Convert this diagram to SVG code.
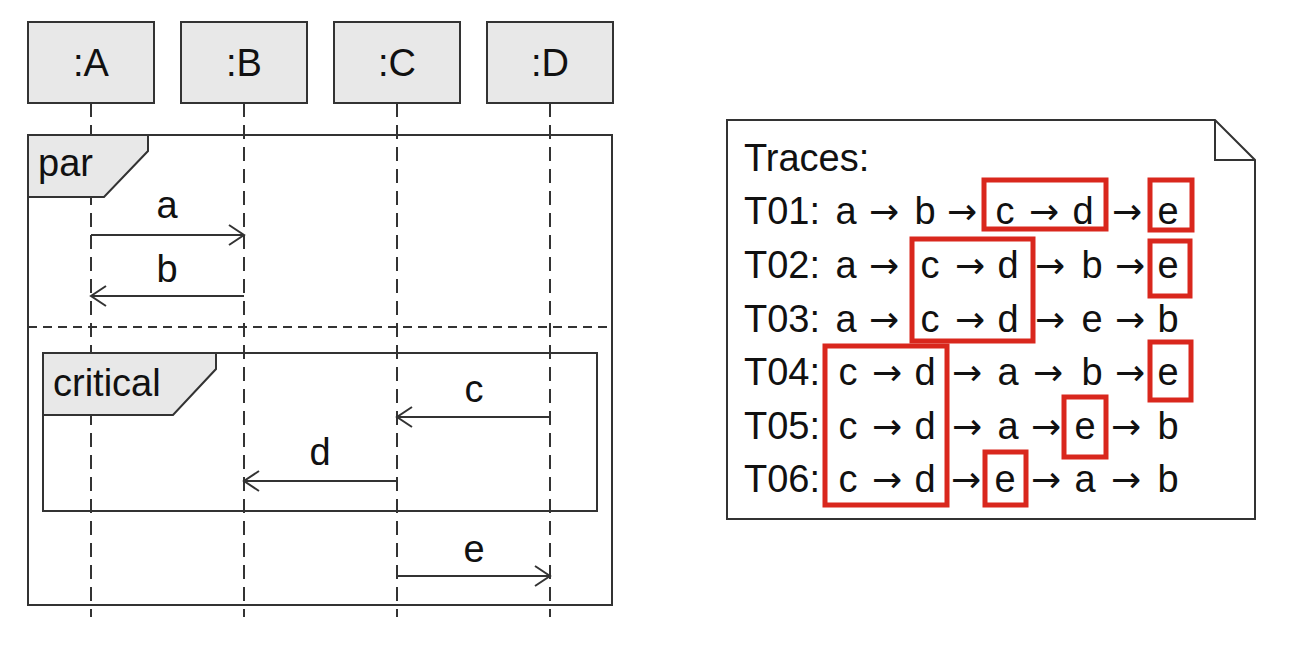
<svg xmlns="http://www.w3.org/2000/svg" width="1299" height="653" viewBox="0 0 1299 653">
<defs>
<style>
.box{fill:#e8e8e8;stroke:#333;stroke-width:2}
.frame{fill:none;stroke:#333;stroke-width:2}
.tab{fill:#e8e8e8;stroke:#333;stroke-width:2}
.life{stroke:#333;stroke-width:2;stroke-dasharray:14 8;fill:none}
.sep{stroke:#333;stroke-width:2;stroke-dasharray:9 6;fill:none}
.msg{stroke:#333;stroke-width:2;fill:none;marker-end:url(#open)}
.t{font-family:"Liberation Sans",Arial,sans-serif;font-size:38px;fill:#111}
.c{text-anchor:middle}
.ar{font-family:"DejaVu Sans",sans-serif;font-size:36px}
.hl{fill:none;stroke:#d9271d;stroke-width:5}
.note{fill:#fff;stroke:#333;stroke-width:2}
</style>
<marker id="open" markerUnits="userSpaceOnUse" markerWidth="20" markerHeight="24" refX="16" refY="11" orient="auto">
<path d="M1,1 L16,11 L1,21" fill="none" stroke="#333" stroke-width="2"/>
</marker>
</defs>

<g id="lifelines">
<line class="life" x1="91" y1="103" x2="91" y2="617"/>
<line class="life" x1="244" y1="103" x2="244" y2="617"/>
<line class="life" x1="397" y1="103" x2="397" y2="617"/>
<line class="life" x1="550" y1="103" x2="550" y2="617"/>
</g>

<g id="A"><rect class="box" x="28" y="22" width="126" height="81"/><text class="t c" x="91" y="76">:A</text></g>
<g id="B"><rect class="box" x="181" y="22" width="126" height="81"/><text class="t c" x="244" y="76">:B</text></g>
<g id="C"><rect class="box" x="334" y="22" width="126" height="81"/><text class="t c" x="397" y="76">:C</text></g>
<g id="D"><rect class="box" x="487" y="22" width="126" height="81"/><text class="t c" x="550" y="76">:D</text></g>

<g id="par">
<rect class="frame" x="28" y="135" width="584" height="470"/>
<path class="tab" d="M28,135 L148,135 L148,151 L104,197 L28,197 Z"/>
<text class="t" x="38" y="176">par</text>
<line class="sep" x1="28" y1="327" x2="612" y2="327"/>
</g>

<g id="critical">
<rect class="frame" x="43" y="353" width="554" height="158"/>
<path class="tab" d="M43,353 L216,353 L216,369 L173,415 L43,415 Z"/>
<text class="t" x="53" y="396">critical</text>
</g>

<g id="connectors">
<line class="msg" x1="91" y1="235" x2="244" y2="235"/>
<text class="t c" x="167" y="218">a</text>
<line class="msg" x1="244" y1="296" x2="91" y2="296"/>
<text class="t c" x="167" y="282">b</text>
<line class="msg" x1="550" y1="417" x2="397" y2="417"/>
<text class="t c" x="474" y="402">c</text>
<line class="msg" x1="397" y1="481" x2="244" y2="481"/>
<text class="t c" x="320" y="465">d</text>
<line class="msg" x1="397" y1="576" x2="550" y2="576"/>
<text class="t c" x="474" y="562">e</text>
</g>

<g id="traces">
<path class="note" d="M727,120 L1215,120 L1255,160 L1255,519 L727,519 Z"/>
<path class="frame" d="M1215,120 L1215,160 L1255,160"/>
<text class="t" x="744" y="171">Traces:</text>

<text class="t" x="744" y="224">T01:</text>
<text class="t c" y="224"><tspan x="846">a</tspan><tspan class="ar" x="884">→</tspan><tspan x="925">b</tspan><tspan class="ar" x="962">→</tspan><tspan x="1005">c</tspan><tspan class="ar" x="1044">→</tspan><tspan x="1083">d</tspan><tspan class="ar" x="1127">→</tspan><tspan x="1168">e</tspan></text>

<text class="t" x="744" y="278">T02:</text>
<text class="t c" y="278"><tspan x="846">a</tspan><tspan class="ar" x="884">→</tspan><tspan x="930">c</tspan><tspan class="ar" x="970">→</tspan><tspan x="1008">d</tspan><tspan class="ar" x="1050">→</tspan><tspan x="1092">b</tspan><tspan class="ar" x="1130">→</tspan><tspan x="1168">e</tspan></text>

<text class="t" x="744" y="332">T03:</text>
<text class="t c" y="332"><tspan x="846">a</tspan><tspan class="ar" x="884">→</tspan><tspan x="930">c</tspan><tspan class="ar" x="970">→</tspan><tspan x="1008">d</tspan><tspan class="ar" x="1050">→</tspan><tspan x="1092">e</tspan><tspan class="ar" x="1130">→</tspan><tspan x="1168">b</tspan></text>

<text class="t" x="744" y="385">T04:</text>
<text class="t c" y="385"><tspan x="848">c</tspan><tspan class="ar" x="887">→</tspan><tspan x="925">d</tspan><tspan class="ar" x="967">→</tspan><tspan x="1008">a</tspan><tspan class="ar" x="1048">→</tspan><tspan x="1092">b</tspan><tspan class="ar" x="1130">→</tspan><tspan x="1168">e</tspan></text>

<text class="t" x="744" y="439">T05:</text>
<text class="t c" y="439"><tspan x="848">c</tspan><tspan class="ar" x="887">→</tspan><tspan x="925">d</tspan><tspan class="ar" x="967">→</tspan><tspan x="1008">a</tspan><tspan class="ar" x="1046">→</tspan><tspan x="1085">e</tspan><tspan class="ar" x="1126">→</tspan><tspan x="1168">b</tspan></text>

<text class="t" x="744" y="492">T06:</text>
<text class="t c" y="492"><tspan x="848">c</tspan><tspan class="ar" x="887">→</tspan><tspan x="925">d</tspan><tspan class="ar" x="966">→</tspan><tspan x="1005">e</tspan><tspan class="ar" x="1046">→</tspan><tspan x="1085">a</tspan><tspan class="ar" x="1126">→</tspan><tspan x="1168">b</tspan></text>

<rect class="hl" x="984" y="180" width="122" height="49"/>
<rect class="hl" x="1150" y="180" width="42" height="50"/>
<rect class="hl" x="1150" y="241" width="40" height="55"/>
<rect class="hl" x="912" y="239" width="121" height="102"/>
<rect class="hl" x="825" y="346" width="122" height="159"/>
<rect class="hl" x="1150" y="342" width="41" height="58"/>
<rect class="hl" x="1064" y="397" width="42" height="60"/>
<rect class="hl" x="985" y="452" width="41" height="53"/>
</g>
</svg>
